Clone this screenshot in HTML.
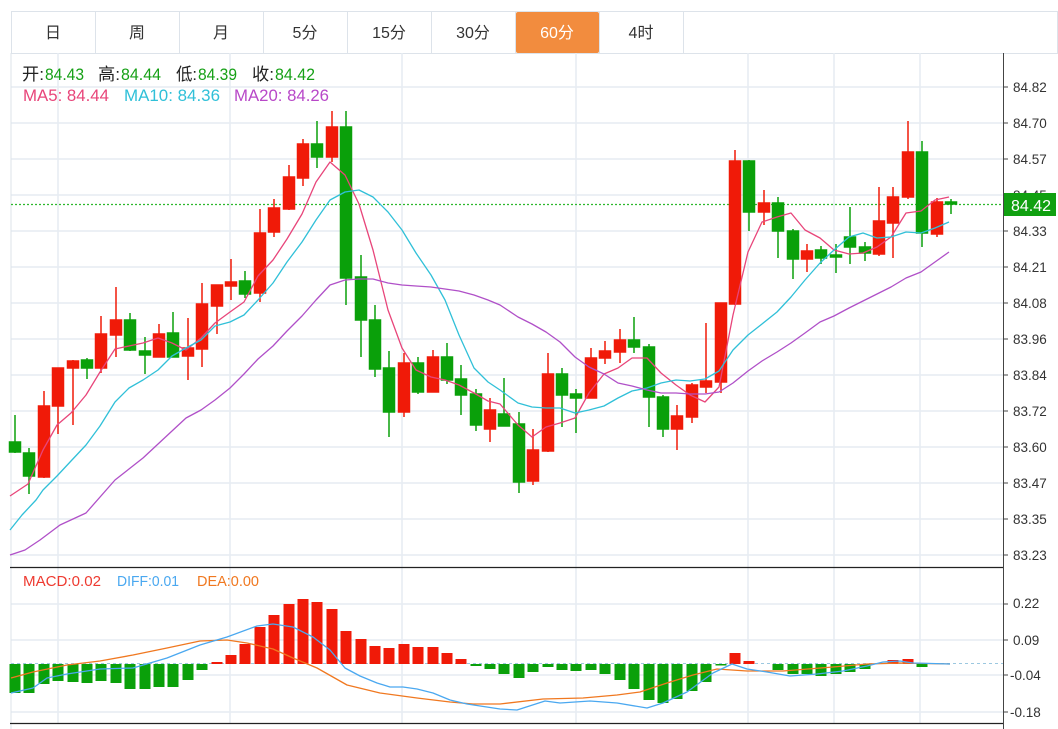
<!DOCTYPE html>
<html><head><meta charset="utf-8"><style>
html,body{margin:0;padding:0;background:#fff;width:1058px;height:729px;overflow:hidden}
svg{display:block;font-family:"Liberation Sans","Noto Sans CJK SC",sans-serif}
</style></head><body>
<svg width="1058" height="729" viewBox="0 0 1058 729" xmlns="http://www.w3.org/2000/svg">
<rect width="1058" height="729" fill="#fff"/>
<!-- tabs -->
<g stroke="#dde3ea" stroke-width="1" fill="none">
<rect x="11.5" y="11.5" width="1046" height="42"/>
<line x1="95.5" y1="11" x2="95.5" y2="53"/><line x1="179.5" y1="11" x2="179.5" y2="53"/><line x1="263.5" y1="11" x2="263.5" y2="53"/><line x1="347.5" y1="11" x2="347.5" y2="53"/><line x1="431.5" y1="11" x2="431.5" y2="53"/><line x1="515.5" y1="11" x2="515.5" y2="53"/><line x1="599.5" y1="11" x2="599.5" y2="53"/><line x1="683.5" y1="11" x2="683.5" y2="53"/>
</g>
<rect x="516" y="12" width="83" height="41" rx="2" fill="#f28c3e"/>
<g font-size="16" text-anchor="middle" fill="#333">
<text x="53" y="38">日</text><text x="137" y="38">周</text><text x="221" y="38">月</text><text x="305" y="38">5分</text><text x="389" y="38">15分</text><text x="473" y="38">30分</text><text x="557" y="38" fill="#fff">60分</text><text x="641" y="38">4时</text>
</g>
<!-- grid -->
<g stroke="#e6ecf2" stroke-width="1.5">
<line x1="11" y1="87" x2="1003" y2="87"/><line x1="11" y1="123" x2="1003" y2="123"/><line x1="11" y1="159" x2="1003" y2="159"/><line x1="11" y1="195" x2="1003" y2="195"/><line x1="11" y1="231" x2="1003" y2="231"/><line x1="11" y1="267" x2="1003" y2="267"/><line x1="11" y1="303" x2="1003" y2="303"/><line x1="11" y1="339" x2="1003" y2="339"/><line x1="11" y1="375" x2="1003" y2="375"/><line x1="11" y1="411" x2="1003" y2="411"/><line x1="11" y1="447" x2="1003" y2="447"/><line x1="11" y1="483" x2="1003" y2="483"/><line x1="11" y1="519" x2="1003" y2="519"/><line x1="11" y1="555" x2="1003" y2="555"/>
<line x1="11" y1="604" x2="1003" y2="604"/><line x1="11" y1="640" x2="1003" y2="640"/><line x1="11" y1="675" x2="1003" y2="675"/><line x1="11" y1="712" x2="1003" y2="712"/>
<line x1="58" y1="53" x2="58" y2="723"/><line x1="230" y1="53" x2="230" y2="723"/><line x1="402" y1="53" x2="402" y2="723"/><line x1="576" y1="53" x2="576" y2="723"/><line x1="748" y1="53" x2="748" y2="723"/><line x1="834" y1="53" x2="834" y2="723"/><line x1="920" y1="53" x2="920" y2="723"/>
</g>
<line x1="11" y1="53" x2="11" y2="729" stroke="#dde3ea"/>
<line x1="10" y1="567.5" x2="1003" y2="567.5" stroke="#222" stroke-width="1.2"/>
<line x1="10" y1="723.5" x2="1003" y2="723.5" stroke="#222" stroke-width="1.2"/>
<line x1="1003.5" y1="53" x2="1003.5" y2="729" stroke="#444" stroke-width="1"/>
<!-- axis labels -->
<g font-size="13.5" fill="#333">
<text x="1013" y="92">84.82</text><text x="1013" y="128">84.70</text><text x="1013" y="164">84.57</text><text x="1013" y="200">84.45</text><text x="1013" y="236">84.33</text><text x="1013" y="272">84.21</text><text x="1013" y="308">84.08</text><text x="1013" y="344">83.96</text><text x="1013" y="380">83.84</text><text x="1013" y="416">83.72</text><text x="1013" y="452">83.60</text><text x="1013" y="488">83.47</text><text x="1013" y="524">83.35</text><text x="1013" y="560">83.23</text>
<text x="1013" y="608">0.22</text><text x="1013" y="645">0.09</text><text x="1010" y="680">-0.04</text><text x="1010" y="717">-0.18</text>
</g>
<g stroke="#444" stroke-width="1">
<line x1="1003" y1="87" x2="1008" y2="87"/><line x1="1003" y1="123" x2="1008" y2="123"/><line x1="1003" y1="159" x2="1008" y2="159"/><line x1="1003" y1="231" x2="1008" y2="231"/><line x1="1003" y1="267" x2="1008" y2="267"/><line x1="1003" y1="303" x2="1008" y2="303"/><line x1="1003" y1="339" x2="1008" y2="339"/><line x1="1003" y1="375" x2="1008" y2="375"/><line x1="1003" y1="411" x2="1008" y2="411"/><line x1="1003" y1="447" x2="1008" y2="447"/><line x1="1003" y1="483" x2="1008" y2="483"/><line x1="1003" y1="519" x2="1008" y2="519"/><line x1="1003" y1="555" x2="1008" y2="555"/><line x1="1003" y1="604" x2="1008" y2="604"/><line x1="1003" y1="640" x2="1008" y2="640"/><line x1="1003" y1="675" x2="1008" y2="675"/><line x1="1003" y1="712" x2="1008" y2="712"/>
</g>
<!-- legend -->
<g font-size="17">
<text x="22" y="80" fill="#222" textLength="22" lengthAdjust="spacingAndGlyphs">开:</text><text x="45" y="80" fill="#16a016" textLength="39" lengthAdjust="spacingAndGlyphs">84.43</text>
<text x="98" y="80" fill="#222" textLength="22" lengthAdjust="spacingAndGlyphs">高:</text><text x="121" y="80" fill="#16a016" textLength="40" lengthAdjust="spacingAndGlyphs">84.44</text>
<text x="176" y="80" fill="#222" textLength="21" lengthAdjust="spacingAndGlyphs">低:</text><text x="198" y="80" fill="#16a016" textLength="39" lengthAdjust="spacingAndGlyphs">84.39</text>
<text x="252" y="80" fill="#222" textLength="22" lengthAdjust="spacingAndGlyphs">收:</text><text x="275" y="80" fill="#16a016" textLength="40" lengthAdjust="spacingAndGlyphs">84.42</text>
<text x="23" y="101" fill="#e8457a" textLength="86" lengthAdjust="spacingAndGlyphs">MA5: 84.44</text>
<text x="124" y="101" fill="#30c0d8" textLength="96" lengthAdjust="spacingAndGlyphs">MA10: 84.36</text>
<text x="234" y="101" fill="#b848c8" textLength="95" lengthAdjust="spacingAndGlyphs">MA20: 84.26</text>
</g>
<!-- current price line -->
<line x1="11" y1="204.5" x2="1003" y2="204.5" stroke="#2db82d" stroke-width="1.3" stroke-dasharray="2,2"/>
<!-- candles -->
<g stroke-width="1.5">
<g stroke="#0aa00a" fill="#0aa00a">
<line x1="15" y1="415" x2="15" y2="453"/><rect x="9.5" y="442" width="11" height="10"/>
<line x1="29" y1="448" x2="29" y2="494"/><rect x="23.5" y="453" width="11" height="23"/>
<line x1="87" y1="358" x2="87" y2="379"/><rect x="81.5" y="360" width="11" height="8"/>
<line x1="130" y1="313" x2="130" y2="351"/><rect x="124.5" y="320" width="11" height="30"/>
<line x1="145" y1="337" x2="145" y2="374"/><rect x="139.5" y="351" width="11" height="4"/>
<line x1="173" y1="312" x2="173" y2="357"/><rect x="167.5" y="333" width="11" height="24"/>
<line x1="245" y1="271" x2="245" y2="298"/><rect x="239.5" y="281" width="11" height="13"/>
<line x1="317" y1="121" x2="317" y2="168"/><rect x="311.5" y="144" width="11" height="13"/>
<line x1="346" y1="111" x2="346" y2="305"/><rect x="340.5" y="127" width="11" height="151"/>
<line x1="361" y1="255" x2="361" y2="357"/><rect x="355.5" y="277" width="11" height="43"/>
<line x1="375" y1="305" x2="375" y2="377"/><rect x="369.5" y="320" width="11" height="49"/>
<line x1="389" y1="351" x2="389" y2="437"/><rect x="383.5" y="368" width="11" height="44"/>
<line x1="418" y1="357" x2="418" y2="394"/><rect x="412.5" y="363" width="11" height="29"/>
<line x1="447" y1="343" x2="447" y2="384"/><rect x="441.5" y="357" width="11" height="23"/>
<line x1="461" y1="365" x2="461" y2="415"/><rect x="455.5" y="379" width="11" height="16"/>
<line x1="476" y1="389" x2="476" y2="431"/><rect x="470.5" y="394" width="11" height="31"/>
<line x1="504" y1="378" x2="504" y2="426"/><rect x="498.5" y="414" width="11" height="12"/>
<line x1="519" y1="412" x2="519" y2="493"/><rect x="513.5" y="424" width="11" height="58"/>
<line x1="562" y1="368" x2="562" y2="427"/><rect x="556.5" y="374" width="11" height="21"/>
<line x1="576" y1="389" x2="576" y2="433"/><rect x="570.5" y="394" width="11" height="4"/>
<line x1="634" y1="317" x2="634" y2="353"/><rect x="628.5" y="340" width="11" height="7"/>
<line x1="649" y1="344" x2="649" y2="427"/><rect x="643.5" y="347" width="11" height="50"/>
<line x1="663" y1="395" x2="663" y2="437"/><rect x="657.5" y="397" width="11" height="32"/>
<line x1="749" y1="160" x2="749" y2="231"/><rect x="743.5" y="161" width="11" height="51"/>
<line x1="778" y1="197" x2="778" y2="258"/><rect x="772.5" y="203" width="11" height="28"/>
<line x1="793" y1="229" x2="793" y2="279"/><rect x="787.5" y="231" width="11" height="28"/>
<line x1="821" y1="246" x2="821" y2="264"/><rect x="815.5" y="250" width="11" height="8"/>
<line x1="836" y1="244" x2="836" y2="273"/><rect x="830.5" y="255" width="11" height="2"/>
<line x1="850" y1="207" x2="850" y2="264"/><rect x="844.5" y="237" width="11" height="10"/>
<line x1="865" y1="242" x2="865" y2="261"/><rect x="859.5" y="247" width="11" height="6"/>
<line x1="922" y1="141" x2="922" y2="247"/><rect x="916.5" y="152" width="11" height="81"/>
<line x1="951" y1="199" x2="951" y2="214"/><rect x="945.5" y="202" width="11" height="2"/>
</g>
<g stroke="#f01a08" fill="#f01a08">
<line x1="44" y1="391" x2="44" y2="478"/><rect x="38.5" y="406" width="11" height="71"/>
<line x1="58" y1="368" x2="58" y2="434"/><rect x="52.5" y="368" width="11" height="38"/>
<line x1="73" y1="360" x2="73" y2="425"/><rect x="67.5" y="361" width="11" height="7"/>
<line x1="101" y1="316" x2="101" y2="373"/><rect x="95.5" y="334" width="11" height="34"/>
<line x1="116" y1="287" x2="116" y2="357"/><rect x="110.5" y="320" width="11" height="15"/>
<line x1="159" y1="324" x2="159" y2="357"/><rect x="153.5" y="334" width="11" height="23"/>
<line x1="188" y1="318" x2="188" y2="380"/><rect x="182.5" y="348" width="11" height="8"/>
<line x1="202" y1="283" x2="202" y2="367"/><rect x="196.5" y="304" width="11" height="45"/>
<line x1="217" y1="285" x2="217" y2="334"/><rect x="211.5" y="285" width="11" height="21"/>
<line x1="231" y1="259" x2="231" y2="300"/><rect x="225.5" y="282" width="11" height="4"/>
<line x1="260" y1="209" x2="260" y2="302"/><rect x="254.5" y="233" width="11" height="60"/>
<line x1="274" y1="199" x2="274" y2="237"/><rect x="268.5" y="208" width="11" height="24"/>
<line x1="289" y1="165" x2="289" y2="210"/><rect x="283.5" y="177" width="11" height="32"/>
<line x1="303" y1="139" x2="303" y2="186"/><rect x="297.5" y="144" width="11" height="34"/>
<line x1="332" y1="111" x2="332" y2="162"/><rect x="326.5" y="127" width="11" height="30"/>
<line x1="404" y1="353" x2="404" y2="417"/><rect x="398.5" y="363" width="11" height="49"/>
<line x1="433" y1="350" x2="433" y2="392"/><rect x="427.5" y="357" width="11" height="35"/>
<line x1="490" y1="398" x2="490" y2="442"/><rect x="484.5" y="410" width="11" height="19"/>
<line x1="533" y1="429" x2="533" y2="485"/><rect x="527.5" y="450" width="11" height="31"/>
<line x1="548" y1="353" x2="548" y2="452"/><rect x="542.5" y="374" width="11" height="77"/>
<line x1="591" y1="348" x2="591" y2="398"/><rect x="585.5" y="358" width="11" height="40"/>
<line x1="605" y1="341" x2="605" y2="364"/><rect x="599.5" y="351" width="11" height="7"/>
<line x1="620" y1="329" x2="620" y2="363"/><rect x="614.5" y="340" width="11" height="12"/>
<line x1="677" y1="405" x2="677" y2="450"/><rect x="671.5" y="416" width="11" height="13"/>
<line x1="692" y1="383" x2="692" y2="423"/><rect x="686.5" y="385" width="11" height="32"/>
<line x1="706" y1="323" x2="706" y2="393"/><rect x="700.5" y="381" width="11" height="6"/>
<line x1="721" y1="303" x2="721" y2="393"/><rect x="715.5" y="303" width="11" height="79"/>
<line x1="735" y1="150" x2="735" y2="305"/><rect x="729.5" y="161" width="11" height="143"/>
<line x1="764" y1="190" x2="764" y2="225"/><rect x="758.5" y="203" width="11" height="9"/>
<line x1="807" y1="244" x2="807" y2="272"/><rect x="801.5" y="251" width="11" height="8"/>
<line x1="879" y1="187" x2="879" y2="256"/><rect x="873.5" y="221" width="11" height="33"/>
<line x1="893" y1="187" x2="893" y2="258"/><rect x="887.5" y="197" width="11" height="26"/>
<line x1="908" y1="121" x2="908" y2="199"/><rect x="902.5" y="152" width="11" height="45"/>
<line x1="937" y1="198" x2="937" y2="237"/><rect x="931.5" y="202" width="11" height="32"/>
</g>
</g>
<!-- MA lines -->
<g fill="none" stroke-width="1.3" stroke-linejoin="round">
<polyline stroke="#e8457a" points="10,496 28,484 43,450 57,425 71,413 86,395 100,372 115,349 129,346 143,343 158,338 172,343 186,350 201,338 215,323 230,312 244,302 258,276 273,260 287,239 302,214 316,182 330,162 345,175 359,204 373,250 388,310 402,348 416,370 431,377 445,380 459,385 474,393 488,401 500,404 518,425 532,437 546,427 560,423 575,418 589,393 604,374 618,368 632,358 647,358 661,373 676,385 690,395 705,402 719,387 733,315 748,252 762,222 777,217 791,213 805,230 820,238 834,250 849,254 863,253 877,247 891,237 906,213 921,211 935,200 949,197"/>
<polyline stroke="#30c0d8" points="10,530 22,515 36,500 43,490 57,476 71,461 86,445 100,426 115,402 129,388 143,380 158,370 172,356 186,348 201,340 215,326 230,322 244,315 258,300 273,283 287,262 302,242 316,220 330,200 345,192 359,190 373,197 388,212 402,230 416,253 431,275 445,300 459,335 474,368 488,382 500,390 518,403 532,407 546,408 560,408 575,413 589,410 604,406 618,398 632,391 647,388 661,383 676,380 690,381 705,379 719,371 733,350 748,335 762,324 777,312 791,297 805,280 820,263 834,250 849,237 863,233 877,238 891,237 906,232 921,233 935,228 949,222"/>
<polyline stroke="#b050c8" points="10,555 25,550 40,540 60,525 86,513 115,480 143,458 172,431 186,418 201,410 215,400 230,388 244,374 258,359 273,346 287,331 302,316 316,300 330,285 345,280 359,279 373,279 388,283 402,285 416,286 431,287 445,289 459,291 474,295 488,300 500,305 518,317 532,324 546,332 560,342 575,357 589,367 604,374 618,383 632,386 647,390 661,393 676,393 690,394 705,394 719,392 733,383 748,371 762,361 777,352 791,343 805,333 820,322 834,316 849,308 863,301 877,294 891,287 906,278 921,272 935,262 949,252"/>
</g>
<!-- price tag -->
<rect x="1004" y="193" width="52" height="23" fill="#10a010"/>
<text x="1011" y="211" font-size="16" fill="#fff">84.42</text>
<!-- MACD -->
<g font-size="15">
<text x="23" y="586" fill="#ee3a30" textLength="78" lengthAdjust="spacingAndGlyphs">MACD:0.02</text>
<text x="117" y="586" fill="#4aa8f0" textLength="62" lengthAdjust="spacingAndGlyphs">DIFF:0.01</text>
<text x="197" y="586" fill="#f07820" textLength="62" lengthAdjust="spacingAndGlyphs">DEA:0.00</text>
</g>
<line x1="11" y1="663.5" x2="1003" y2="663.5" stroke="#9cc8e0" stroke-width="1" stroke-dasharray="3,3"/>
<g fill="#0aa00a">
<rect x="9.5" y="664" width="11" height="29"/><rect x="23.5" y="664" width="11" height="29"/><rect x="38.5" y="664" width="11" height="20"/><rect x="52.5" y="664" width="11" height="17"/><rect x="67.5" y="664" width="11" height="18"/><rect x="81.5" y="664" width="11" height="19"/><rect x="95.5" y="664" width="11" height="17"/><rect x="110.5" y="664" width="11" height="19"/><rect x="124.5" y="664" width="11" height="25"/><rect x="139.5" y="664" width="11" height="25"/><rect x="153.5" y="664" width="11" height="23"/><rect x="167.5" y="664" width="11" height="23"/><rect x="182.5" y="664" width="11" height="16"/><rect x="196.5" y="664" width="11" height="6"/>
<rect x="470.5" y="664" width="11" height="2"/><rect x="484.5" y="664" width="11" height="5"/><rect x="498.5" y="664" width="11" height="10"/><rect x="513.5" y="664" width="11" height="14"/><rect x="527.5" y="664" width="11" height="8"/><rect x="542.5" y="664" width="11" height="3"/><rect x="556.5" y="664" width="11" height="6"/><rect x="570.5" y="664" width="11" height="7"/><rect x="585.5" y="664" width="11" height="6"/><rect x="599.5" y="664" width="11" height="10"/><rect x="614.5" y="664" width="11" height="16"/><rect x="628.5" y="664" width="11" height="25"/><rect x="643.5" y="664" width="11" height="36"/><rect x="657.5" y="664" width="11" height="39"/><rect x="671.5" y="664" width="11" height="35"/><rect x="686.5" y="664" width="11" height="27"/><rect x="700.5" y="664" width="11" height="18"/><rect x="715.5" y="664" width="11" height="1.5"/>
<rect x="772.5" y="664" width="11" height="6"/><rect x="787.5" y="664" width="11" height="10"/><rect x="801.5" y="664" width="11" height="10"/><rect x="815.5" y="664" width="11" height="12"/><rect x="830.5" y="664" width="11" height="10"/><rect x="844.5" y="664" width="11" height="8"/><rect x="859.5" y="664" width="11" height="5"/><rect x="916.5" y="664" width="11" height="3"/>
</g>
<g fill="#f01a08">
<rect x="211.5" y="662" width="11" height="2"/><rect x="225.5" y="655" width="11" height="9"/><rect x="239.5" y="644" width="11" height="20"/><rect x="254.5" y="627" width="11" height="37"/><rect x="268.5" y="615" width="11" height="49"/><rect x="283.5" y="604" width="11" height="60"/><rect x="297.5" y="599" width="11" height="65"/><rect x="311.5" y="602" width="11" height="62"/><rect x="326.5" y="609" width="11" height="55"/><rect x="340.5" y="631" width="11" height="33"/><rect x="355.5" y="639" width="11" height="25"/><rect x="369.5" y="646" width="11" height="18"/><rect x="383.5" y="648" width="11" height="16"/><rect x="398.5" y="644" width="11" height="20"/><rect x="412.5" y="647" width="11" height="17"/><rect x="427.5" y="647" width="11" height="17"/><rect x="441.5" y="653" width="11" height="11"/><rect x="455.5" y="659" width="11" height="5"/>
<rect x="729.5" y="653" width="11" height="11"/><rect x="743.5" y="661" width="11" height="3"/><rect x="887.5" y="660" width="11" height="4"/><rect x="902.5" y="659" width="11" height="5"/>
</g>
<g fill="none" stroke-width="1.3" stroke-linejoin="round">
<polyline stroke="#f07820" points="11,678 33,672 67,665 100,661 133,655 167,648 200,641 227,640 247,643 273,649 293,658 317,668 347,685 380,693 417,698 450,702 473,704 500,704 543,699 583,698 617,695 640,692 667,683 693,675 717,669 747,671 783,671 833,667 867,664 900,663 950,664"/>
<polyline stroke="#4aa8f0" points="11,693 33,688 47,678 67,674 100,669 133,668 167,658 200,645 227,637 257,626 273,624 293,627 313,637 330,650 345,668 360,676 377,683 390,687 403,687 417,689 433,693 450,700 467,704 500,709 517,710 545,701 560,703 590,701 617,703 647,708 663,703 687,692 713,673 732,664 747,669 767,672 790,676 817,674 843,671 867,666 883,662 900,661 913,663 950,664"/>
</g>
</svg>
</body></html>
